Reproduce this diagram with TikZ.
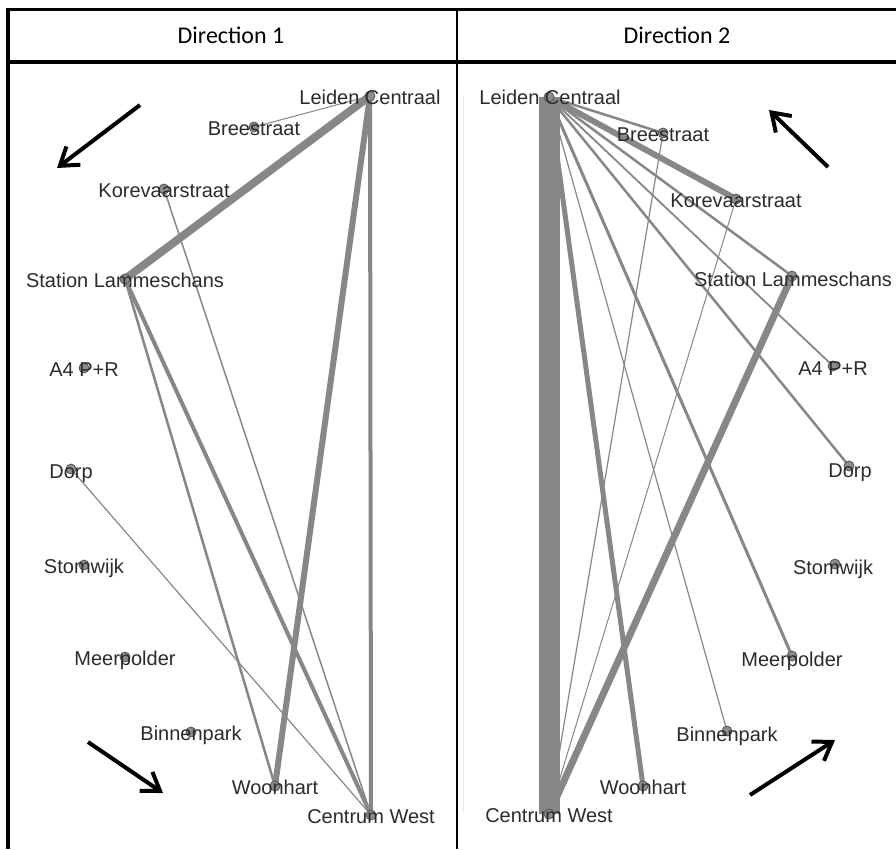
\documentclass[tikz,border=0pt]{standalone}
\usepackage{fontspec}
\setmainfont{Liberation Sans}
\newfontfamily\hdrfont{Carlito}
\usetikzlibrary{arrows.meta}
\pgfdeclarelayer{paper}
\pgfdeclarelayer{flows}
\pgfsetlayers{paper,flows,main}
\definecolor{edgegray}{HTML}{878787}
\definecolor{vtxfill}{HTML}{8C8C8C}
\definecolor{vtxline}{HTML}{555555}
\definecolor{lbltext}{HTML}{2B2B2B}
\begin{document}
\begin{tikzpicture}[x=1pt,y=-1pt,
  stn/.style={circle,fill=vtxfill,draw=vtxline,line width=0.8pt,minimum size=10pt,inner sep=0pt},
  lbl/.style={text=lbltext,font=\fontsize{20pt}{24pt}\selectfont,inner sep=0pt,anchor=base},
  edge/.style={draw=edgegray,line cap=butt},
  dirarrow/.style={line width=4pt,line cap=butt,-{Straight Barb[length=17pt,width=23pt]}},
  hdr/.style={font=\hdrfont\fontsize{24pt}{28pt}\selectfont,inner sep=0pt}]

% canvas
\useasboundingbox (0,0) rectangle (896,849);
\begin{pgfonlayer}{paper}
\fill[white] (0,0) rectangle (896,849);
% faint axis line left inside the second panel
\draw[black!8,line width=1pt] (463,95) -- (463,813);
\end{pgfonlayer}

% ---------- Direction 1 stations ----------
\node[stn] (a-lc) at (370,96) {};
\node[stn] (a-br) at (254,127) {};
\node[stn] (a-kv) at (164,189) {};
\node[stn] (a-sl) at (125,279) {};
\node[stn] (a-a4) at (84,368) {};
\node[stn] (a-dp) at (71,469) {};
\node[stn] (a-st) at (84,565) {};
\node[stn] (a-mp) at (125,657) {};
\node[stn] (a-bp) at (191,732) {};
\node[stn] (a-wh) at (275,786) {};
\node[stn] (a-cw) at (371,815) {};

% ---------- Direction 2 stations ----------
\node[stn] (b-lc) at (549,97) {};
\node[stn] (b-br) at (663,133) {};
\node[stn] (b-kv) at (736,199) {};
\node[stn] (b-sl) at (792,276) {};
\node[stn] (b-a4) at (833,366) {};
\node[stn] (b-dp) at (849,466) {};
\node[stn] (b-st) at (835,564) {};
\node[stn] (b-mp) at (792,656) {};
\node[stn] (b-bp) at (727,731) {};
\node[stn] (b-wh) at (643,786) {};
\node[stn] (b-cw) at (549,814) {};

\begin{pgfonlayer}{flows}
% flows, direction 1
\draw[edge,line width=1pt]   (a-lc.center) -- (a-br.center);
\draw[edge,line width=8pt]   (a-lc.center) -- (a-sl.center);
\draw[edge,line width=6pt]   (a-lc.center) -- (a-wh.center);
\draw[edge,line width=4pt]   (a-lc.center) -- (a-cw.center);
\draw[edge,line width=1.5pt] (a-kv.center) -- (a-cw.center);
\draw[edge,line width=2.5pt] (a-sl.center) -- (a-wh.center);
\draw[edge,line width=4pt]   (a-sl.center) -- (a-cw.center);
\draw[edge,line width=1.2pt] (a-dp.center) -- (a-cw.center);

% flows, direction 2
\draw[edge,line width=21pt]  (b-lc.center) -- (b-cw.center);
\draw[edge,line width=2.5pt] (b-lc.center) -- (b-br.center);
\draw[edge,line width=6pt]   (b-lc.center) -- (b-kv.center);
\draw[edge,line width=2.5pt] (b-lc.center) -- (b-sl.center);
\draw[edge,line width=1.8pt] (b-lc.center) -- (b-a4.center);
\draw[edge,line width=2.5pt] (b-lc.center) -- (b-dp.center);
\draw[edge,line width=3pt]   (b-lc.center) -- (b-mp.center);
\draw[edge,line width=1.2pt] (b-lc.center) -- (b-bp.center);
\draw[edge,line width=5pt]   (b-lc.center) -- (b-wh.center);
\draw[edge,line width=1.2pt] (b-br.center) -- (b-cw.center);
\draw[edge,line width=1pt]   (b-kv.center) -- (b-cw.center);
\draw[edge,line width=7pt]   (b-sl.center) -- (b-cw.center);
\end{pgfonlayer}

% station names
\node[lbl] (a-lc-t) at ([yshift=-8pt]a-lc.center) {Leiden Centraal};
\node[lbl] (a-br-t) at ([yshift=-8pt]a-br.center) {Breestraat};
\node[lbl] (a-kv-t) at ([yshift=-8pt]a-kv.center) {Korevaarstraat};
\node[lbl] (a-sl-t) at ([yshift=-8pt]a-sl.center) {Station Lammeschans};
\node[lbl] (a-a4-t) at ([yshift=-8pt]a-a4.center) {A4 P+R};
\node[lbl] (a-dp-t) at ([yshift=-9pt]a-dp.center) {Dorp};
\node[lbl] (a-st-t) at ([yshift=-8pt]a-st.center) {Stomwijk};
\node[lbl] (a-mp-t) at ([yshift=-8pt]a-mp.center) {Meerpolder};
\node[lbl] (a-bp-t) at ([yshift=-8pt]a-bp.center) {Binnenpark};
\node[lbl] (a-wh-t) at ([yshift=-8pt]a-wh.center) {Woonhart};
\node[lbl] (a-cw-t) at ([yshift=-8pt]a-cw.center) {Centrum West};

\node[lbl] (b-lc-t) at ([xshift=1pt,yshift=-7pt]b-lc.center) {Leiden Centraal};
\node[lbl] (b-br-t) at ([yshift=-8pt]b-br.center) {Breestraat};
\node[lbl] (b-kv-t) at ([yshift=-8pt]b-kv.center) {Korevaarstraat};
\node[lbl] (b-sl-t) at ([xshift=1pt,yshift=-10pt]b-sl.center) {Station Lammeschans};
\node[lbl] (b-a4-t) at ([yshift=-9pt]b-a4.center) {A4 P+R};
\node[lbl] (b-dp-t) at ([xshift=1pt,yshift=-11pt]b-dp.center) {Dorp};
\node[lbl] (b-st-t) at ([xshift=-2pt,yshift=-10pt]b-st.center) {Stomwijk};
\node[lbl] (b-mp-t) at ([yshift=-10pt]b-mp.center) {Meerpolder};
\node[lbl] (b-bp-t) at ([yshift=-10pt]b-bp.center) {Binnenpark};
\node[lbl] (b-wh-t) at ([yshift=-8pt]b-wh.center) {Woonhart};
\node[lbl] (b-cw-t) at ([yshift=-8pt]b-cw.center) {Centrum West};

% direction arrows
\coordinate (d1a-s) at (140,105);  \coordinate (d1a-e) at (57,168);
\coordinate (d1b-s) at (88,742);   \coordinate (d1b-e) at (163,793);
\coordinate (d2a-s) at (828,167);  \coordinate (d2a-e) at (769,110);
\coordinate (d2b-s) at (750,795);  \coordinate (d2b-e) at (835,740);
\draw[dirarrow] (d1a-s) -- (d1a-e);
\draw[dirarrow] (d1b-s) -- (d1b-e);
\draw[dirarrow] (d2a-s) -- (d2a-e);
\draw[dirarrow] (d2b-s) -- (d2b-e);

% table frame and header
\draw[line width=2.5pt] (6,9.5) -- (896,9.5);
\draw[line width=4pt] (6,61.5) -- (896,61.5);
\draw[line width=4pt] (7.5,8.25) -- (7.5,849);
\draw[line width=2.5pt] (457,8.25) -- (457,849);
\node[hdr] (h1) at (231,35) {Direction 1};
\node[hdr] (h2) at (677,35) {Direction 2};
\end{tikzpicture}
\end{document}
